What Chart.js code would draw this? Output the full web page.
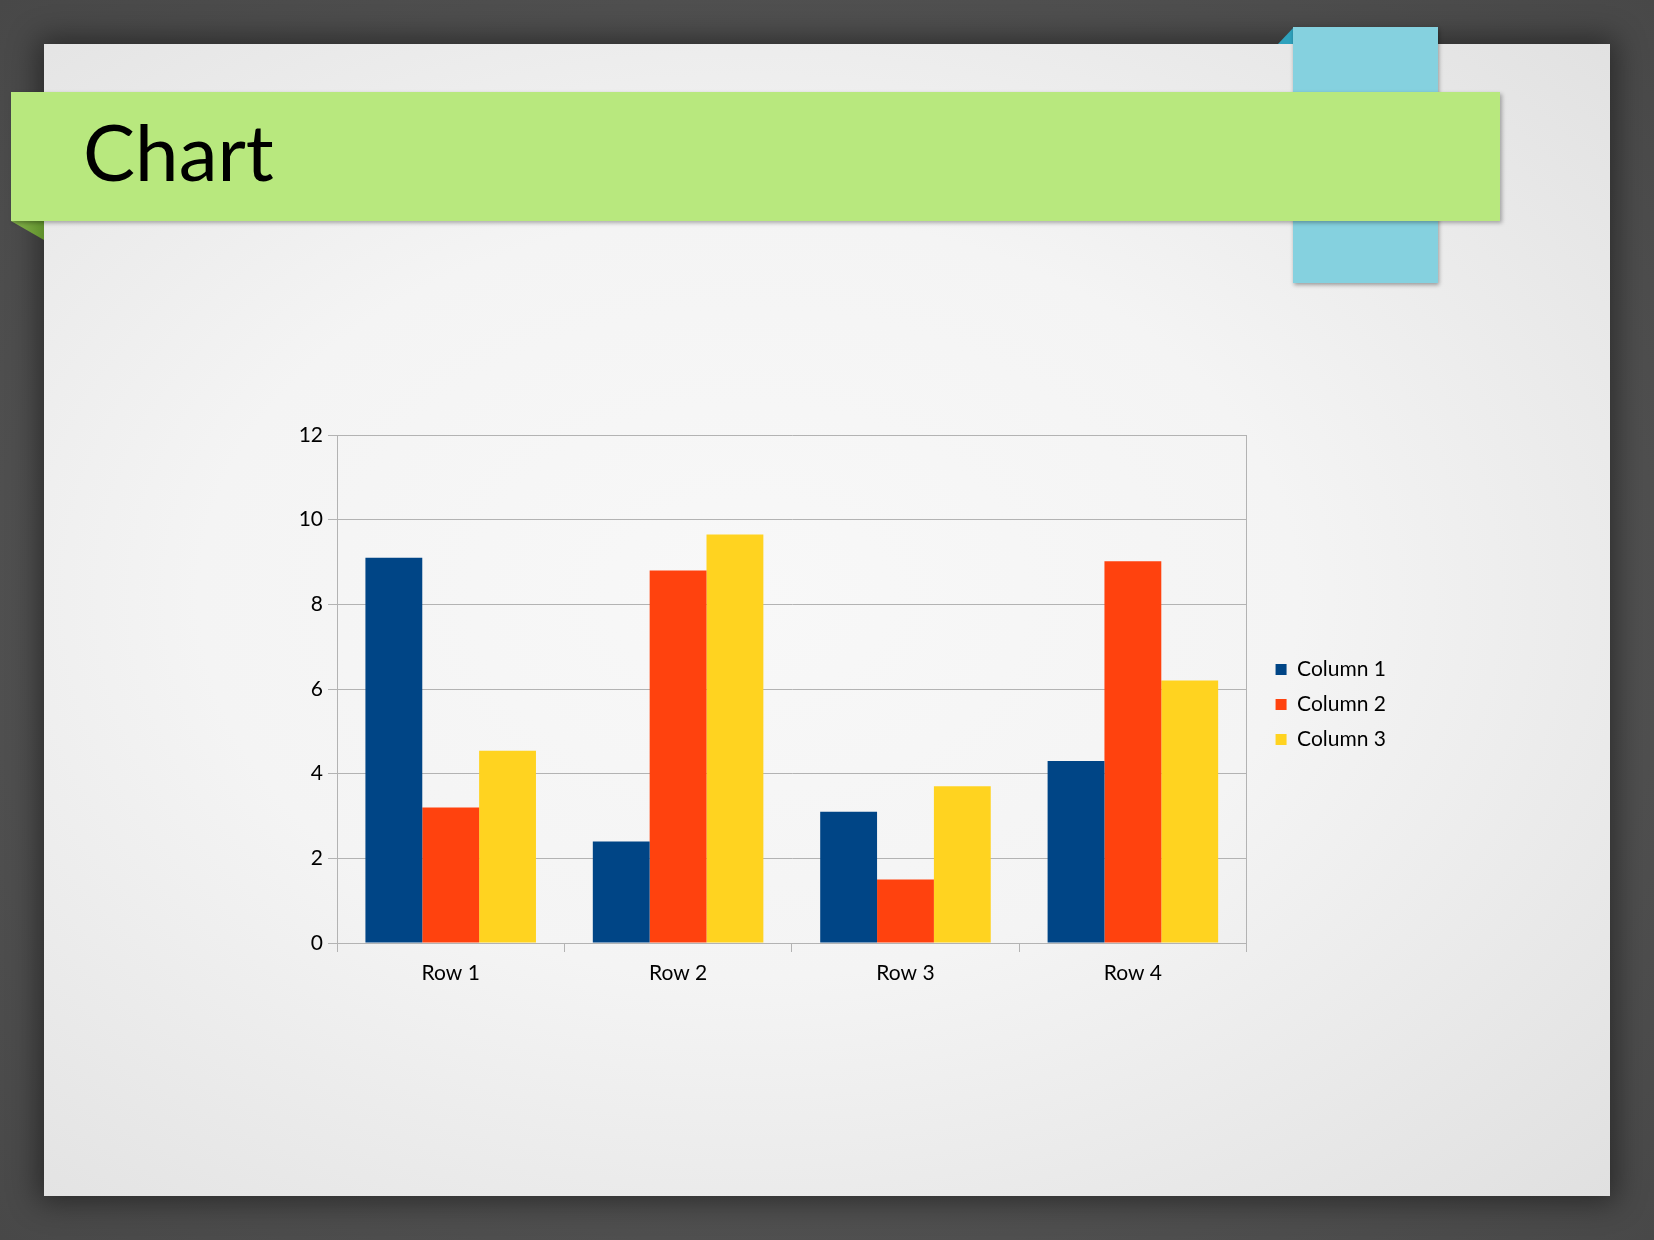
<!DOCTYPE html>
<html>
<head>
<meta charset="utf-8">
<script src="https://cdn.jsdelivr.net/npm/chart.js@4/dist/chart.umd.min.js"></script>
<style>
  html, body { margin: 0; padding: 0; }
  body {
    width: 1654px; height: 1240px; overflow: hidden; position: relative;
    background: radial-gradient(ellipse at 50% 50%, #5c5c5c 0%, #525252 60%, #484848 100%);
    font-family: Lato, "Open Sans", sans-serif;
  }
  #paper {
    position: absolute; left: 44px; top: 44px; width: 1566px; height: 1152px;
    background: radial-gradient(ellipse at 45% 48%, #f8f8f8 0%, #f4f4f4 45%, #e0e0e0 100%);
    box-shadow: 0 0 28px 6px rgba(0,0,0,0.45);
  }
  #ribbon {
    position: absolute; left: 1293px; top: 27px; width: 145px; height: 256px;
    background: #85d1df;
    box-shadow: 1px 2px 4px rgba(0,0,0,0.35);
  }
  #ribbonFold {
    position: absolute; left: 1278px; top: 27px; width: 16px; height: 17px;
    background: #2fa2bd;
    clip-path: polygon(100% 0, 100% 100%, 0 100%);
  }
  #banner {
    position: absolute; left: 11px; top: 92px; width: 1489px; height: 129px;
    background: #b8e87e;
    box-shadow: 2px 2px 4px rgba(0,0,0,0.3);
  }
  #bannerFold {
    position: absolute; left: 11px; top: 221px; width: 33px; height: 19px;
    background: linear-gradient(90deg, #8ab94e, #5f8f2c);
    clip-path: polygon(0 0, 100% 0, 100% 100%);
  }
  #title {
    position: absolute; left: 83px; top: 112px;
    font-family: Lato, sans-serif; font-size: 78px; line-height: 1; color: #000;
  }
  #box {
    position: absolute; left: 270px; top: 395px; width: 1150px; height: 615px;
  }
</style>
</head>
<body>
<div id="paper"></div>
<div id="ribbonFold"></div>
<div id="ribbon"></div>
<div id="bannerFold"></div>
<div id="banner"></div>
<div id="title">Chart</div>
<div id="box"><canvas id="myChart"></canvas></div>

<script>
// data
const rows = ['Row 1', 'Row 2', 'Row 3', 'Row 4'];
const column1 = [9.1, 2.4, 3.1, 4.3];
const column2 = [3.2, 8.8, 1.5, 9.02];
const column3 = [4.54, 9.65, 3.7, 6.2];
const yTicks = [0, 2, 4, 6, 8, 10, 12];

const gridColor = '#b3b3b3';
const labelFont = { family: 'Lato', size: 21 };

const ctx = document.getElementById('myChart').getContext('2d');

const myChart = new Chart(ctx, {
    type: 'bar',
    data: {
        labels: rows,
        datasets: [
            { label: 'Column 1', data: column1, backgroundColor: '#004586' },
            { label: 'Column 2', data: column2, backgroundColor: '#ff420e' },
            { label: 'Column 3', data: column3, backgroundColor: '#ffd320' }
        ]
    },
    options: {
        responsive: true,
        maintainAspectRatio: false,
        animation: false,
        datasets: {
            bar: { categoryPercentage: 0.75, barPercentage: 1.0, borderWidth: 0 }
        },
        layout: { padding: { top: 40, right: 24, bottom: 0, left: 0 } },
        plugins: {
            tooltip: { enabled: false },
            legend: {
                position: 'right',
                align: 'start',
                // empty title just pushes the entries down to mid height
                title: { display: true, text: '', font: { size: 10 }, padding: { top: 0, bottom: 198 } },
                labels: {
                    boxWidth: 11,
                    boxHeight: 11,
                    padding: 14,
                    color: '#000',
                    font: labelFont
                }
            }
        },
        scales: {
            x: {
                grid: { offset: true, drawOnChartArea: false, drawTicks: true, tickLength: 9, color: gridColor },
                border: { color: gridColor },
                ticks: { color: '#000', font: labelFont, padding: 9 },
                afterFit: (scale) => { scale.height = 67; }
            },
            y: {
                min: 0,
                max: 12,
                afterBuildTicks: (scale) => { scale.ticks = yTicks.map(v => ({ value: v })); },
                grid: { color: gridColor, tickLength: 9 },
                border: { color: gridColor },
                ticks: { color: '#000', font: labelFont, padding: 5 },
                afterFit: (scale) => { scale.width = 67; }
            },
            y2: {
                position: 'right',
                grid: { drawOnChartArea: false, drawTicks: false },
                border: { color: gridColor },
                ticks: { display: false },
                afterFit: (scale) => { scale.width = 15; }
            }
        }
    }
});
</script>
</body>
</html>
